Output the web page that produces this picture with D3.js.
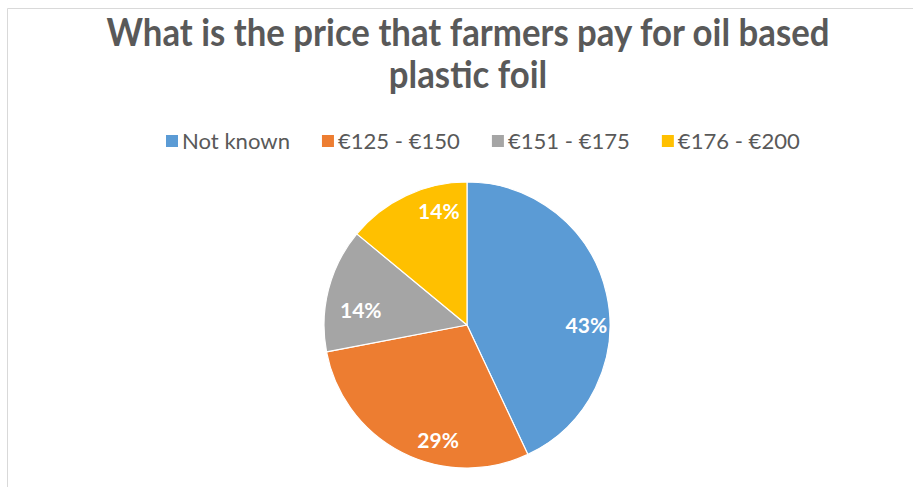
<!DOCTYPE html>
<html>
<head>
<meta charset="utf-8">
<script src="https://cdn.jsdelivr.net/npm/d3@7"></script>
<style>
  html, body { margin: 0; padding: 0; background: #ffffff; }
  svg { display: block; }
</style>
</head>
<body>
<svg id="chart" width="913" height="487"></svg>
<script>
// Survey answers: price band paid for oil-based plastic foil
const categories = ["Not known", "€125 - €150", "€151 - €175", "€176 - €200"];
const shares = [43, 29, 14, 14];           // percent of respondents
const sliceColors = ["#5B9BD5", "#ED7D31", "#A5A5A5", "#FFC000"];
const titleLines = ["What is the price that farmers pay for oil based", "plastic foil"];

// Layout
const W = 913, H = 487;
const cx = 467, cy = 325, radius = 143;
const textColor = "#595959";
const fontFamily = "Lato, 'Open Sans', 'DejaVu Sans', sans-serif";
// Where each percentage label sits inside its slice (degrees clockwise from 12 o'clock, fraction of radius)
const labelPlacement = [
  { angle: 90,  dist: 0.835 },
  { angle: 194, dist: 0.835 },
  { angle: 278, dist: 0.75 },
  { angle: 346, dist: 0.815 }
];

const svg = d3.select("#chart");

// Chart area frame (light grey, top and left edges visible)
svg.append("path")
  .attr("d", `M7.5,${H} V8.5 H${W}`)
  .attr("fill", "none")
  .attr("stroke", "#d9d9d9")
  .attr("stroke-width", 1);

// Helper: scale a text element's font size so its width hits a target
function fitWidth(sel, target, startSize) {
  sel.style("font-size", startSize + "px");
  const w = sel.node().getComputedTextLength();
  const size = startSize * target / w;
  sel.style("font-size", size + "px");
  return size;
}

// Title (slightly stretched vertically for a taller, narrower face)
const titleStretch = 1.12;
const title = svg.append("g").attr("class", "title");
const line1 = title.append("text")
  .attr("transform", `translate(468,46) scale(1,${titleStretch})`)
  .attr("text-anchor", "middle")
  .style("font-family", fontFamily)
  .style("font-weight", 700)
  .style("fill", textColor)
  .text(titleLines[0]);
const titleSize = fitWidth(line1, 723, 30);
title.append("text")
  .attr("transform", `translate(468,88) scale(1,${titleStretch})`)
  .attr("text-anchor", "middle")
  .style("font-family", fontFamily)
  .style("font-weight", 700)
  .style("font-size", titleSize + "px")
  .style("fill", textColor)
  .text(titleLines[1]);

// Legend
const legend = svg.append("g").attr("class", "legend");
const probe = legend.append("text")
  .style("font-family", fontFamily)
  .text(categories[1]);
const legendSize = fitWidth(probe, 122, 19);
probe.remove();

const color = d3.scaleOrdinal().domain(categories).range(sliceColors);
let lx = 166;
categories.forEach(cat => {
  const item = legend.append("g").attr("transform", `translate(${lx},135)`);
  item.append("rect")
    .attr("width", 12).attr("height", 12)
    .attr("fill", color(cat));
  const t = item.append("text")
    .attr("x", 16).attr("y", 6)
    .attr("dy", "0.36em")
    .style("font-family", fontFamily)
    .style("font-size", legendSize + "px")
    .style("fill", textColor)
    .text(cat);
  lx += 16 + t.node().getComputedTextLength() + 32;
});

// Pie
const pie = d3.pie().value(d => d.value).sort(null);
const arc = d3.arc().innerRadius(0).outerRadius(radius);
const data = categories.map((c, i) => ({ category: c, value: shares[i] }));
const arcs = pie(data);

const g = svg.append("g").attr("transform", `translate(${cx},${cy})`);
g.selectAll("path.slice")
  .data(arcs)
  .join("path")
  .attr("class", "slice")
  .attr("d", arc)
  .attr("fill", d => color(d.data.category))
  .attr("stroke", "#ffffff")
  .attr("stroke-width", 1.2)
  .attr("stroke-linejoin", "round");

g.selectAll("text.pct")
  .data(arcs)
  .join("text")
  .attr("class", "pct")
  .attr("transform", (d, i) => {
    const a = labelPlacement[i].angle * Math.PI / 180;
    const r = labelPlacement[i].dist * radius;
    return `translate(${r * Math.sin(a)},${-r * Math.cos(a)})`;
  })
  .attr("text-anchor", "middle")
  .attr("dy", "0.36em")
  .style("font-family", fontFamily)
  .style("font-weight", 700)
  .style("font-size", "21px")
  .style("fill", "#ffffff")
  .text(d => d.data.value + "%");
</script>
</body>
</html>
